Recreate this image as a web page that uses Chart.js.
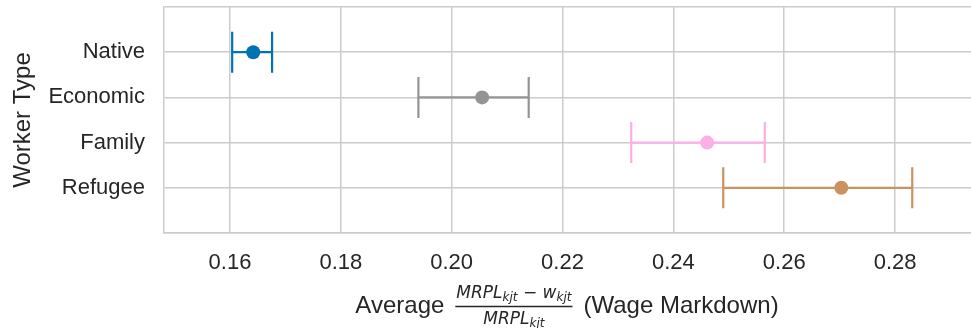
<!DOCTYPE html>
<html>
<head>
<meta charset="utf-8">
<script src="https://cdn.jsdelivr.net/npm/chart.js@4/dist/chart.umd.min.js"></script>
<style>
  html, body { margin: 0; padding: 0; background: #ffffff; }
  canvas { display: block; }
</style>
</head>
<body>
<canvas id="chart" width="971" height="328"></canvas>
<script>
// Worker categories, top to bottom
const workerTypes = ['Native', 'Economic', 'Family', 'Refugee'];
// Average wage markdown and its confidence interval per worker type
const markdownMean = [0.1642, 0.2055, 0.2461, 0.2703];
const ciLow = [0.1604, 0.1940, 0.2324, 0.2490];
const ciHigh = [0.1676, 0.2139, 0.2565, 0.2831];
// Tick values on the markdown axis
const xTicks = [0.16, 0.18, 0.20, 0.22, 0.24, 0.26, 0.28];
const seriesColors = ['#0173b2', '#949494', '#fbafe4', '#ca9161'];

const TEXT = '#262626';
const GRID = '#cccccc';
const SANS = '"Liberation Sans", Arial, sans-serif';
const MATH = '"DejaVu Sans", sans-serif';

// Horizontal error bars with end caps, drawn beneath the points
const errorBars = {
  id: 'errorBars',
  beforeDatasetsDraw(chart) {
    const { ctx, scales: { x, y } } = chart;
    const cap = 20.5;
    ctx.save();
    ctx.lineWidth = 2.2;
    ctx.lineCap = 'butt';
    workerTypes.forEach((t, i) => {
      const x1 = x.getPixelForValue(ciLow[i]);
      const x2 = x.getPixelForValue(ciHigh[i]);
      const yy = y.getPixelForValue(i);
      ctx.strokeStyle = seriesColors[i];
      ctx.beginPath();
      ctx.moveTo(x1, yy); ctx.lineTo(x2, yy);
      ctx.moveTo(x1, yy - cap); ctx.lineTo(x1, yy + cap);
      ctx.moveTo(x2, yy - cap); ctx.lineTo(x2, yy + cap);
      ctx.stroke();
    });
    ctx.restore();
  }
};

// Axis title with an inline fraction: Average (MRPL_kjt - w_kjt)/MRPL_kjt (Wage Markdown)
const markdownTitle = {
  id: 'markdownTitle',
  afterDraw(chart) {
    const { ctx, chartArea } = chart;
    const main = '24px ' + SANS;
    const big = 'italic 17px ' + MATH;
    const sub = 'italic 12px ' + MATH;
    const up = '17px ' + MATH;
    ctx.save();
    ctx.fillStyle = TEXT;
    ctx.textBaseline = 'alphabetic';
    ctx.textAlign = 'left';

    const w = (txt, f) => { ctx.font = f; return ctx.measureText(txt).width; };
    const numParts = [
      ['MRPL', big, 0], ['kjt', sub, 3], [' \u2212 ', up, 0], ['w', big, 0], ['kjt', sub, 3]
    ];
    const denParts = [['MRPL', big, 0], ['kjt', sub, 3]];
    const partsWidth = parts => parts.reduce((s, p) => s + w(p[0], p[1]), 0);
    const numW = partsWidth(numParts);
    const denW = partsWidth(denParts);
    const fracW = Math.max(numW, denW) + 2;
    const leftTxt = 'Average';
    const rightTxt = '(Wage Markdown)';
    const gap = 11;
    const total = w(leftTxt, main) + gap + fracW + gap + w(rightTxt, main);
    let cx = (chartArea.left + chartArea.right) / 2 - 0.5 - total / 2;
    const baseY = 313;
    const barY = 306.5;

    ctx.font = main;
    ctx.fillText(leftTxt, cx, baseY);
    cx += w(leftTxt, main) + gap;

    const drawParts = (parts, x0, by) => {
      let px = x0;
      parts.forEach(([txt, f, dy]) => {
        ctx.font = f;
        ctx.fillText(txt, px, by + dy);
        px += ctx.measureText(txt).width;
      });
    };
    drawParts(numParts, cx + (fracW - numW) / 2, 298);
    drawParts(denParts, cx + (fracW - denW) / 2, 324);
    ctx.fillRect(cx, barY - 0.75, fracW, 1.5);
    cx += fracW + gap;

    ctx.font = main;
    ctx.fillText(rightTxt, cx, baseY);
    ctx.restore();
  }
};

// Keep the plot frame flush: no extra room reserved for edge tick labels
const noEdgePadding = s => {
  s.paddingTop = 0; s.paddingBottom = 0; s.paddingLeft = 0; s.paddingRight = 0;
};

new Chart(document.getElementById('chart'), {
  type: 'scatter',
  data: {
    datasets: [{
      data: workerTypes.map((t, i) => ({ x: markdownMean[i], y: i })),
      pointBackgroundColor: seriesColors,
      pointBorderColor: seriesColors,
      pointRadius: 7,
      pointHoverRadius: 7,
      pointBorderWidth: 0,
      showLine: false
    }]
  },
  options: {
    responsive: false,
    animation: false,
    devicePixelRatio: 1,
    layout: { autoPadding: false, padding: { top: 7, right: 0, bottom: 0, left: 0 } },
    plugins: { legend: { display: false }, tooltip: { enabled: false } },
    scales: {
      x: {
        type: 'linear',
        min: 0.1481,
        max: 0.2937,
        afterBuildTicks: s => { s.ticks = xTicks.map(v => ({ value: v })); },
        afterFit: s => { s.height = 95; noEdgePadding(s); },
        ticks: {
          callback: v => v.toFixed(2),
          color: TEXT,
          font: { family: SANS, size: 22 },
          padding: 17,
          maxRotation: 0
        },
        grid: { color: GRID, lineWidth: 1.5, drawTicks: false },
        border: { display: true, color: GRID, width: 1.5 }
      },
      y: {
        type: 'linear',
        reverse: true,
        min: -1,
        max: 4,
        afterBuildTicks: s => { s.ticks = [-1, 0, 1, 2, 3, 4].map(v => ({ value: v })); },
        afterFit: s => { s.width = 164; noEdgePadding(s); },
        ticks: {
          callback: v => workerTypes[v] ?? '',
          color: TEXT,
          font: { family: SANS, size: 22 },
          padding: 19
        },
        grid: { color: GRID, lineWidth: 1.5, drawTicks: false },
        border: { display: true, color: GRID, width: 1.5 },
        title: {
          display: true,
          text: 'Worker Type',
          color: TEXT,
          font: { family: SANS, size: 24 },
          padding: { top: 9, bottom: 0 }
        }
      }
    }
  },
  plugins: [errorBars, markdownTitle]
});
</script>
</body>
</html>
